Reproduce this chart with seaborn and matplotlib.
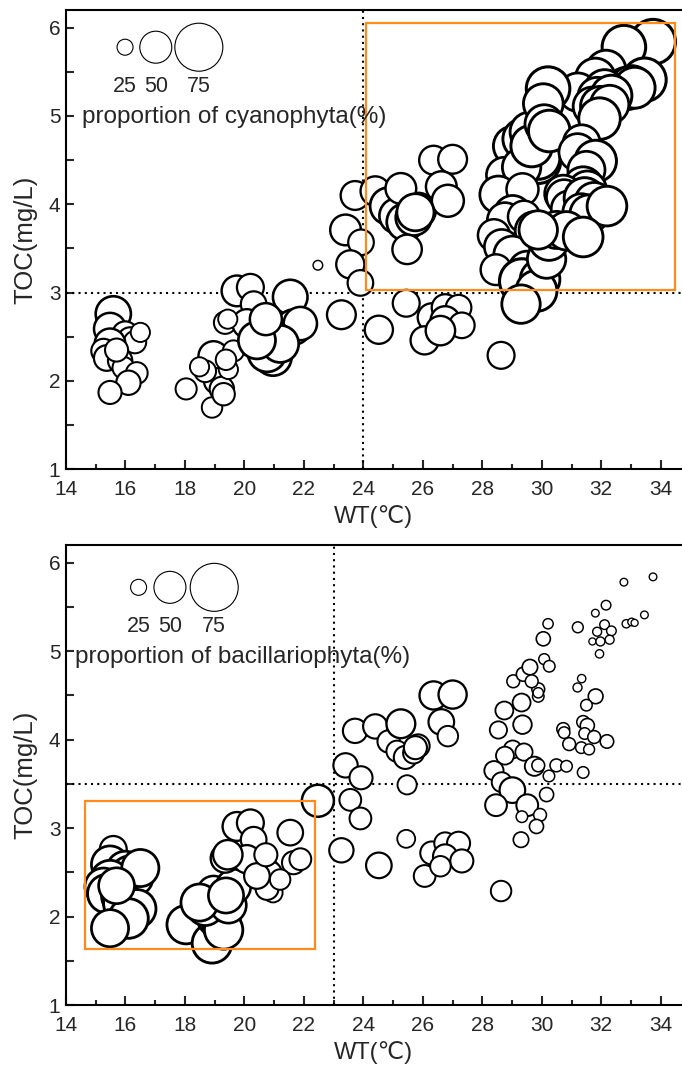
import numpy as np
import pandas as pd
import matplotlib
matplotlib.use("Agg")
import matplotlib.pyplot as plt
from matplotlib.patches import Rectangle
from matplotlib.ticker import MultipleLocator
import seaborn as sns

# ---------------- data ----------------
wt = [15.59, 15.48, 15.99, 16.15, 16.32, 15.48, 15.26, 15.37, 15.82, 15.93, 16.38, 16.10, 15.48, 16.50, 15.70,
      18.04, 18.91, 18.96, 19.07, 19.24, 19.30, 18.68, 19.46, 19.63, 18.49, 19.38,
      19.35, 19.75, 20.20, 20.31, 20.53, 20.08, 20.76, 21.54, 21.65, 21.88, 20.96, 20.85, 20.76, 21.20, 20.42, 19.44, 20.72,
      22.47,
      23.72, 24.40, 23.40, 23.92, 23.56, 23.90, 23.26, 24.52,
      24.85, 25.13, 25.41, 25.69, 25.84, 25.26, 26.36, 27.00, 26.62, 26.84, 25.47, 25.44, 25.75,
      26.30, 26.75, 27.20, 26.75, 27.31, 26.06, 26.59, 28.63,
      29.04, 29.38, 29.60, 29.88, 29.88, 29.88, 28.74, 29.32, 28.54, 29.35, 29.02, 28.76, 29.40, 29.75, 28.39, 28.65,
      29.01, 28.46, 29.51, 29.33, 29.94, 29.82, 29.30, 30.16, 30.24, 29.66,
      33.74, 32.76, 32.16, 31.80, 33.45, 32.84, 33.02, 33.12, 31.21, 32.11, 31.86, 32.34, 31.70, 31.97, 32.28, 31.94,
      30.21, 30.05, 30.08, 30.25, 31.34, 31.20, 31.81, 31.50, 31.39, 31.53, 30.72, 30.75, 30.92, 31.44, 31.76, 31.33,
      31.59, 32.19, 30.49, 30.83, 31.39, 29.88]
toc = [2.76, 2.59, 2.53, 2.47, 2.44, 2.42, 2.34, 2.26, 2.23, 2.15, 2.09, 1.98, 1.87, 2.55, 2.35,
       1.91, 1.70, 2.28, 2.00, 1.91, 1.85, 2.11, 2.13, 2.34, 2.16, 2.24,
       2.66, 3.02, 3.06, 2.87, 2.61, 2.65, 2.51, 2.95, 2.61, 2.65, 2.27, 2.49, 2.32, 2.42, 2.46, 2.70, 2.70,
       3.31,
       4.10, 4.15, 3.71, 3.57, 3.32, 3.11, 2.75, 2.58,
       3.98, 3.87, 3.80, 3.85, 3.93, 4.18, 4.50, 4.51, 4.20, 4.04, 3.49, 2.88, 3.91,
       2.72, 2.83, 2.83, 2.68, 2.63, 2.46, 2.57, 2.29,
       4.66, 4.74, 4.82, 4.57, 4.49, 4.53, 4.33, 4.42, 4.11, 4.17, 3.89, 3.82, 3.86, 3.70, 3.65, 3.52,
       3.43, 3.26, 3.26, 3.13, 3.15, 3.02, 2.87, 3.38, 3.59, 4.66,
       5.84, 5.78, 5.52, 5.43, 5.41, 5.31, 5.33, 5.32, 5.27, 5.30, 5.22, 5.23, 5.11, 5.11, 5.13, 4.97,
       5.31, 5.14, 4.91, 4.83, 4.69, 4.59, 4.49, 4.39, 4.20, 4.16, 4.12, 4.08, 3.95, 4.07, 4.03, 3.91,
       3.89, 3.98, 3.71, 3.70, 3.63, 3.71]
cyano = [55, 50, 40, 38, 35, 48, 38, 40, 38, 34, 34, 38, 36, 30, 36,
         33, 32, 47, 40, 38, 35, 34, 30, 33, 30, 32,
         35, 48, 42, 40, 55, 45, 62, 54, 55, 52, 58, 60, 60, 58, 58, 30, 50,
         15,
         45, 46, 48, 40, 44, 40, 45, 44,
         58, 55, 58, 56, 55, 48, 45, 45, 48, 50, 46, 42, 58,
         44, 42, 40, 46, 40, 44, 46, 42,
         62, 64, 62, 70, 70, 68, 56, 60, 58, 50, 58, 55, 50, 60, 50, 54,
         58, 48, 58, 70, 62, 64, 60, 60, 62, 65,
         70, 68, 62, 62, 68, 66, 66, 64, 60, 62, 60, 64, 60, 62, 60, 65,
         68, 62, 60, 65, 58, 58, 65, 58, 62, 60, 58, 55, 56, 64, 60, 58,
         60, 62, 58, 60, 62, 60]
bacil = [42, 58, 58, 60, 56, 60, 58, 60, 58, 62, 60, 62, 58, 58, 56,
         60, 62, 50, 62, 60, 60, 58, 56, 54, 58, 55,
         45, 45, 42, 40, 38, 44, 40, 40, 36, 34, 30, 38, 36, 32, 40, 46, 36,
         50,
         38, 38, 38, 36, 34, 34, 38, 40,
         35, 33, 36, 33, 36, 45, 44, 44, 40, 32, 30, 28, 36,
         36, 34, 36, 38, 36, 34, 32, 32,
         20, 22, 24, 20, 18, 16, 28, 28, 27, 29, 28, 28, 27, 30, 30, 31,
         40, 34, 34, 18, 20, 22, 24, 22, 18, 20,
         12, 12, 15, 12, 12, 13, 12, 11, 17, 15, 14, 15, 11, 14, 14, 13,
         16, 22, 17, 18, 13, 14, 23, 18, 20, 22, 20, 18, 20, 18, 20, 18,
         17, 21, 20, 18, 18, 20]
legend_levels = [25, 50, 75]
legend_labels = ["25", "50", "75"]
x_ticks = [14, 16, 18, 20, 22, 24, 26, 28, 30, 32, 34]
y_ticks = [1, 2, 3, 4, 5, 6]

df = pd.DataFrame({"WT": wt, "TOC": toc, "cyano": cyano, "bacil": bacil})

# bubble diameter linear in percentage (0.64 px per %) -> area in pt^2
K = 0.64 * 0.72
def area(p):
    return (K * np.asarray(p, dtype=float)) ** 2

df["a_cyano"] = area(df["cyano"])
df["a_bacil"] = area(df["bacil"])

sns.set_style("ticks")
plt.rcParams["font.family"] = ["Liberation Sans", "DejaVu Sans"]

fig = plt.figure(figsize=(6.82, 10.67), dpi=100)
ax1 = fig.add_axes([66 / 682, 1 - 469.3 / 1067, 615 / 682, 459.3 / 1067])
ax2 = fig.add_axes([66 / 682, 1 - 1005.2 / 1067, 615 / 682, 460.2 / 1067])

ORANGE = "#FF8C1A"

def panel(ax, col, vline, hline, rect, leg_pos, lab_y, name, text_pos):
    amin, amax = df[col].min(), df[col].max()
    sns.scatterplot(data=df, x="WT", y="TOC", size=col, sizes=(amin, amax),
                    size_norm=(amin, amax), color="white", edgecolor="black",
                    legend=False, ax=ax, zorder=3)
    coll = ax.collections[-1]
    pct = np.sqrt(df[col].values) / K
    coll.set_linewidths(0.7 + 0.022 * pct)
    coll.set_facecolor("white")
    coll.set_edgecolor("black")

    ax.axvline(vline, color="black", ls=(0, (1, 2)), lw=1.5, zorder=2)
    ax.axhline(hline, color="black", ls=(0, (1, 2)), lw=1.5, zorder=2)
    ax.add_patch(Rectangle((rect[0], rect[1]), rect[2] - rect[0], rect[3] - rect[1],
                           fill=False, edgecolor=ORANGE, lw=1.6, zorder=4))

    ax.set_xlim(14, 34.68)
    ax.set_ylim(1, 6.2)
    ax.set_xticks(x_ticks)
    ax.set_yticks(y_ticks)
    ax.xaxis.set_minor_locator(MultipleLocator(1))
    ax.yaxis.set_minor_locator(MultipleLocator(0.5))
    ax.tick_params(axis="both", which="both", direction="in", width=1.5,
                   labelsize=15, top=False, right=False)
    ax.tick_params(axis="x", which="major", length=6.5, pad=8)
    ax.tick_params(axis="x", which="minor", length=3.5)
    ax.tick_params(axis="y", which="both", length=6, pad=4)
    for s in ["left", "bottom", "top"]:
        ax.spines[s].set_linewidth(1.5)
        ax.spines[s].set_color("black")
    ax.spines["right"].set_visible(False)
    ax.set_xlabel("WT(℃)", fontsize=17, labelpad=4)
    ax.set_ylabel("TOC(mg/L)", fontsize=18.5, labelpad=8)

    # size legend
    ax.scatter(leg_pos, [lab_y[0]] * 3, s=area(legend_levels), transform=ax.transAxes,
               facecolor="white", edgecolor="black", linewidths=0.8, zorder=5, clip_on=False)
    for xp, lab in zip(leg_pos, legend_labels):
        ax.text(xp, lab_y[1], lab, transform=ax.transAxes, ha="center", va="center",
                fontsize=15.5, zorder=6)
    ax.text(text_pos[0], text_pos[1], name, transform=ax.transAxes, ha="left",
            va="center", fontsize=17.5, zorder=6)

panel(ax1, "a_cyano", 24, 3, (24.1, 3.03, 34.48, 6.05),
      [0.096, 0.146, 0.216], (0.919, 0.833), "proportion of cyanophyta(%)", (0.026, 0.766))
panel(ax2, "a_bacil", 23, 3.5, (14.65, 1.63, 22.37, 3.31),
      [0.118, 0.169, 0.241], (0.908, 0.822), "proportion of bacillariophyta(%)", (0.015, 0.757))

fig.savefig("out.png", dpi=100)
